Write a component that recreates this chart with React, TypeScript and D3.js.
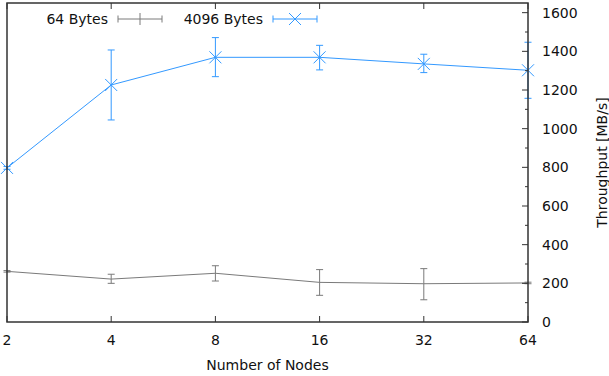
import React from "react";
import * as d3 from "d3";

// Node counts on the x axis (log2)
const nodes = [2, 4, 8, 16, 32, 64];

// 64-byte messages: mean throughput and error range (MB/s)
const small = [262, 222, 252, 205, 198, 202];
const smallLo = [258, 200, 212, 138, 115, 198];
const smallHi = [266, 247, 291, 271, 276, 206];

// 4096-byte messages: mean throughput and error range (MB/s)
const large = [797, 1226, 1369, 1369, 1335, 1302];
const largeLo = [790, 1045, 1269, 1304, 1290, 1157];
const largeHi = [804, 1407, 1471, 1431, 1385, 1447];

const yTicks = [0, 200, 400, 600, 800, 1000, 1200, 1400, 1600];
const yMinor = [100, 300, 500, 700, 900, 1100, 1300, 1500];

const W = 609;
const H = 376;
const L = 7;
const R = 528;
const T = 3;
const B = 322;

const GRAY = "#7a7a7a";
const BLUE = "#3399ff";
const AXIS = "#333";
const FONT = "'DejaVu Sans', sans-serif";

export default function App() {
  const x = d3.scaleLog().base(2).domain([2, 64]).range([L, R]);
  const y = d3.scaleLinear().domain([0, 1650]).range([B, T]);
  const line = d3
    .line<number>()
    .x((_, i) => x(nodes[i]))
    .y((v) => y(v));

  const errBars = (lo: number[], hi: number[], color: string, cap: number) =>
    nodes.map((n, i) => (
      <g key={i} stroke={color} strokeWidth={1}>
        <line x1={x(n)} x2={x(n)} y1={y(lo[i])} y2={y(hi[i])} />
        <line x1={x(n) - cap} x2={x(n) + cap} y1={y(lo[i])} y2={y(lo[i])} />
        <line x1={x(n) - cap} x2={x(n) + cap} y1={y(hi[i])} y2={y(hi[i])} />
      </g>
    ));

  const cross = (cx: number, cy: number, s: number, key: any) => (
    <path
      key={key}
      d={`M${cx - s},${cy - s}L${cx + s},${cy + s}M${cx - s},${cy + s}L${cx + s},${cy - s}`}
      stroke={BLUE}
      strokeWidth={1}
      fill="none"
    />
  );

  return (
    <svg
      width={W}
      height={H}
      style={{ position: "absolute", left: 0, top: 0, fontFamily: FONT }}
    >
      <rect width={W} height={H} fill="white" />

      {/* series: 64 Bytes */}
      <path d={line(small) ?? ""} fill="none" stroke={GRAY} strokeWidth={1} />
      {errBars(smallLo, smallHi, GRAY, 3.5)}

      {/* series: 4096 Bytes */}
      <path d={line(large) ?? ""} fill="none" stroke={BLUE} strokeWidth={1} />
      {errBars(largeLo, largeHi, BLUE, 3.5)}
      {nodes.map((n, i) => cross(x(n), y(large[i]), 6, i))}

      {/* x ticks, top and bottom */}
      {nodes.map((n) => (
        <g key={n} stroke={AXIS} strokeWidth={1}>
          <line x1={x(n)} x2={x(n)} y1={B} y2={B - 6} />
          <line x1={x(n)} x2={x(n)} y1={T} y2={T + 6} />
        </g>
      ))}
      {/* y ticks on the right axis */}
      {yTicks.map((v) => (
        <line key={v} x1={R} x2={R - 6} y1={y(v)} y2={y(v)} stroke={AXIS} />
      ))}
      {yMinor.map((v) => (
        <line key={v} x1={R} x2={R - 3} y1={y(v)} y2={y(v)} stroke={AXIS} />
      ))}

      {/* frame */}
      <rect
        x={L}
        y={T}
        width={R - L}
        height={B - T}
        fill="none"
        stroke={AXIS}
        strokeWidth={1.5}
      />

      {/* tick labels */}
      {nodes.map((n) => (
        <text key={n} x={x(n)} y={345} textAnchor="middle" fontSize={14} fill="#111">
          {n}
        </text>
      ))}
      {yTicks.map((v) => (
        <text key={v} x={542} y={y(v) + 5} fontSize={14} fill="#111">
          {v}
        </text>
      ))}

      {/* axis titles */}
      <text x={(L + R) / 2} y={370} textAnchor="middle" fontSize={14} fill="#111">
        Number of Nodes
      </text>
      <text
        transform={`translate(607,${(T + B) / 2}) rotate(-90)`}
        textAnchor="middle"
        fontSize={14}
        fill="#111"
      >
        Throughput [MB/s]
      </text>

      {/* legend */}
      <g>
        <text x={108} y={24} textAnchor="end" fontSize={14} fill="#111">
          64 Bytes
        </text>
        <g stroke={GRAY} strokeWidth={1}>
          <line x1={118} x2={162} y1={19} y2={19} />
          <line x1={118} x2={118} y1={15.5} y2={22.5} />
          <line x1={162} x2={162} y1={15.5} y2={22.5} />
          <line x1={140} x2={140} y1={13} y2={25} />
        </g>
        <text x={263} y={24} textAnchor="end" fontSize={14} fill="#111">
          4096 Bytes
        </text>
        <g stroke={BLUE} strokeWidth={1}>
          <line x1={273} x2={317} y1={19} y2={19} />
          <line x1={273} x2={273} y1={15.5} y2={22.5} />
          <line x1={317} x2={317} y1={15.5} y2={22.5} />
        </g>
        {cross(295, 19, 6, "lg")}
      </g>
    </svg>
  );
}
